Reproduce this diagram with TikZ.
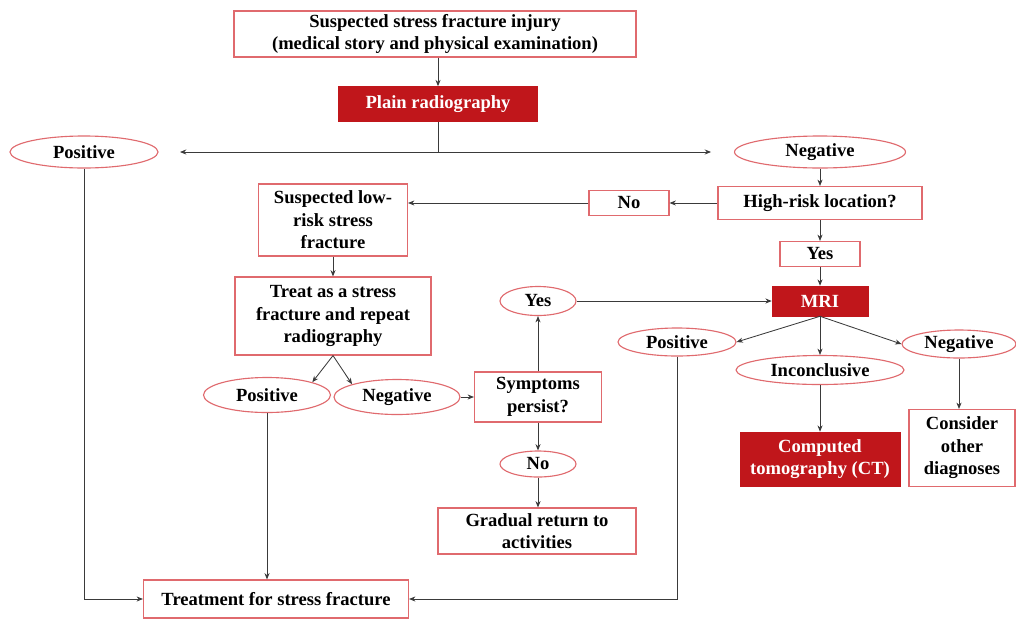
\documentclass[tikz,border=0pt]{standalone}
\usepackage{fontspec}
\setmainfont{Liberation Serif}
\usetikzlibrary{shapes.geometric,arrows.meta}
\definecolor{edgered}{HTML}{E06A6E}
\definecolor{fillred}{HTML}{C0161B}
\definecolor{linegray}{HTML}{3A3A3A}
\def\pxu{0.025cm}
\tikzset{
  every node/.style={font=\fontsize{13.2}{16}\selectfont\bfseries, align=center, inner sep=0pt},
  box/.style={draw=edgered, line width=0.8pt, fill=white, text=black},
  redbox/.style={draw=fillred, fill=fillred, text=white},
  oval/.style={ellipse, draw=edgered, line width=0.8pt, fill=white, text=black},
  conn/.style={draw=linegray, line width=0.6pt},
  arr/.style={conn, -{Stealth[length=4.5pt,width=3.6pt]}},
}
\begin{document}
\begin{tikzpicture}[x=0.025cm, y=-0.025cm]
\useasboundingbox (0,0) rectangle (1016,619);
% nodes
\node[box, minimum width=402*\pxu, minimum height=46*\pxu] (top) at (435,34) {Suspected stress fracture injury\\(medical story and physical examination)};
\node[redbox, minimum width=199*\pxu, minimum height=35*\pxu] (plain) at (438,104) {Plain radiography};
\node[oval, minimum width=148*\pxu, minimum height=32*\pxu] (posL) at (84,152) {Positive};
\node[oval, minimum width=171*\pxu, minimum height=32*\pxu] (negT) at (820,152) {Negative};
\node[box, minimum width=204*\pxu, minimum height=33*\pxu] (high) at (820,203) {High-risk location?};
\node[box, minimum width=80*\pxu, minimum height=25*\pxu] (no) at (629,203) {No};
\node[box, minimum width=149*\pxu, minimum height=72*\pxu] (low) at (333,220) {Suspected low-\\risk stress\\fracture};
\node[box, minimum width=196*\pxu, minimum height=78*\pxu] (treat) at (333,316) {Treat as a stress\\fracture and repeat\\radiography};
\node[oval, minimum width=127*\pxu, minimum height=35*\pxu] (pos2) at (267,395) {Positive};
\node[oval, minimum width=126*\pxu, minimum height=35*\pxu] (neg2) at (397,397) {Negative};
\node[box, minimum width=127*\pxu, minimum height=50*\pxu] (symp) at (538,397) {Symptoms\\persist?};
\node[oval, minimum width=76*\pxu, minimum height=29*\pxu] (yesE) at (538,301) {Yes};
\node[oval, minimum width=76*\pxu, minimum height=26*\pxu] (noE) at (538,464) {No};
\node[box, minimum width=198*\pxu, minimum height=46*\pxu] (grad) at (537,531) {Gradual return to\\activities};
\node[box, minimum width=80*\pxu, minimum height=25*\pxu] (yesB) at (820,254) {Yes};
\node[redbox, minimum width=96*\pxu, minimum height=30*\pxu] (mri) at (820,301) {MRI};
\node[oval, minimum width=118*\pxu, minimum height=28*\pxu] (posR) at (677,342) {Positive};
\node[oval, minimum width=168*\pxu, minimum height=29*\pxu] (inc) at (820,370) {Inconclusive};
\node[oval, minimum width=114*\pxu, minimum height=28*\pxu] (negR) at (959,344) {Negative};
\node[redbox, minimum width=160*\pxu, minimum height=54*\pxu] (ct) at (820,459) {Computed\\tomography (CT)};
\node[box, minimum width=106*\pxu, minimum height=77*\pxu] (cons) at (962,448) {Consider\\other\\diagnoses};
\node[box, minimum width=265*\pxu, minimum height=38*\pxu] (tmt) at (276,599) {Treatment for stress fracture};
% connectors
\coordinate (split) at (438,152);
\coordinate (pl) at (180,152);
\coordinate (pr) at (711,152);
\draw[arr] (plain.north |- top.south) -- (plain.north);
\draw[conn] (plain.south) -- (split);
\draw[arr] (split) -- (pl);
\draw[arr] (split) -- (pr);
\draw[arr] (negT) -- (high);
\draw[arr] (high) -- (no);
\draw[arr] (no.west) -- (no.west -| low.east);
\draw[arr] (high) -- (yesB);
\draw[arr] (yesB) -- (mri);
\draw[arr] (low) -- (treat);
\draw[arr] (treat.south) -- (pos2.north east);
\draw[arr] (treat.south) -- (neg2.north west);
\draw[arr] (neg2) -- (symp);
\draw[arr] (symp) -- (yesE);
\draw[arr] (symp) -- (noE);
\draw[arr] (noE.south) -- (noE.south |- grad.north);
\draw[arr] (yesE) -- (mri);
\draw[arr] (mri.south) -- (posR.east);
\draw[arr] (mri.south) -- (inc.north);
\draw[arr] (mri.south) -- (negR.west);
\draw[arr] (inc) -- (ct);
\draw[arr] (negR.south) -- (negR.south |- cons.north);
\draw[arr] (posL.south) |- (tmt.west);
\draw[arr] (pos2.south) -- (pos2.south |- tmt.north);
\draw[arr] (posR.south) |- (tmt.east);
\end{tikzpicture}
\end{document}
